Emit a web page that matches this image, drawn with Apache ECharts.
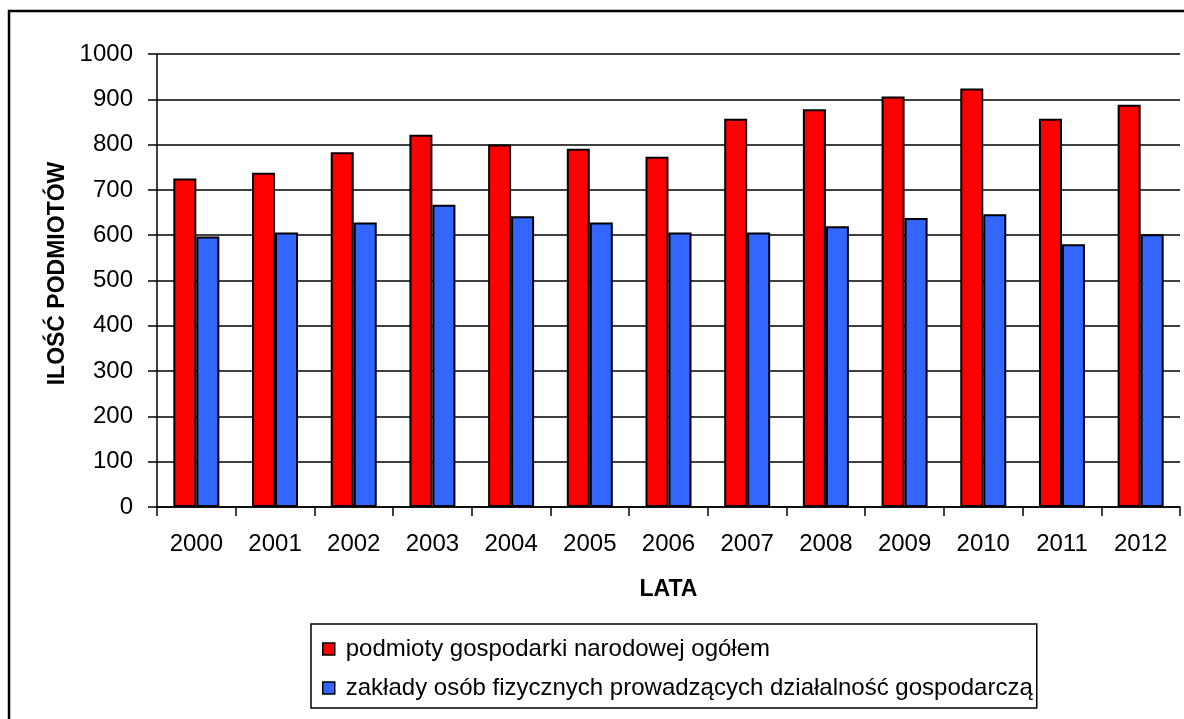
<!DOCTYPE html>
<html>
<head>
<meta charset="utf-8">
<script src="https://cdn.jsdelivr.net/npm/echarts@6/dist/echarts.min.js"></script>
<style>
  html, body { margin: 0; padding: 0; background: #fff; }
  #chart { width: 1184px; height: 719px; }
</style>
</head>
<body>
<div id="chart"></div>
<script>
// Years on the category axis
const years = ['2000', '2001', '2002', '2003', '2004', '2005', '2006',
               '2007', '2008', '2009', '2010', '2011', '2012'];

// Number of entities per year
const podmiotyOgolem = [725, 738, 783, 822, 800, 791, 773, 857, 878, 906, 924, 857, 888];
const zakladyOsobFizycznych = [597, 606, 628, 667, 642, 628, 606, 606, 620, 638, 646, 580, 602];

const seriesNames = [
  'podmioty gospodarki narodowej ogółem',
  'zakłady osób fizycznych prowadzących działalność gospodarczą'
];

const FONT = '"Liberation Sans", Arial, sans-serif';

const chart = echarts.init(document.getElementById('chart'), null, { renderer: 'canvas' });

chart.setOption({
  backgroundColor: '#ffffff',
  animation: false,
  textStyle: { fontFamily: FONT, color: '#000' },
  graphic: [
    {
      // outer chart frame (runs past the right and bottom edges)
      type: 'rect',
      shape: { x: 9, y: 11, width: 1300, height: 900 },
      style: { fill: 'none', stroke: '#000', lineWidth: 2.5 },
      silent: true,
      z: -1
    }
  ],
  grid: {
    left: 157,
    right: 4,
    top: 54,
    bottom: 212,
    containLabel: false
  },
  legend: {
    orient: 'vertical',
    left: 311,
    top: 624,
    padding: [13, 4, 8, 11],
    itemGap: 15,
    itemWidth: 12,
    itemHeight: 12,
    borderColor: '#000',
    borderWidth: 1.5,
    backgroundColor: '#fff',
    icon: 'rect',
    itemStyle: { borderColor: '#000', borderWidth: 1.5 },
    textStyle: { fontFamily: FONT, fontSize: 24, color: '#000', padding: [0, 0, 0, 6] },
    data: seriesNames
  },
  xAxis: {
    type: 'category',
    data: years,
    name: 'LATA',
    nameLocation: 'middle',
    nameGap: 71,
    nameTextStyle: { fontFamily: FONT, fontSize: 23, fontWeight: 'bold', color: '#000' },
    axisLine: { lineStyle: { color: '#000', width: 1.5 } },
    axisTick: { show: true, length: 9, alignWithLabel: false, lineStyle: { color: '#000', width: 1.5 } },
    axisLabel: { margin: 25, fontFamily: FONT, fontSize: 24, color: '#000' },
    splitLine: { show: false }
  },
  yAxis: {
    type: 'value',
    min: 0,
    max: 1000,
    interval: 100,
    name: 'ILOŚĆ PODMIOTÓW',
    nameLocation: 'middle',
    nameRotate: 90,
    nameGap: 76,
    nameTextStyle: {
      fontFamily: FONT, fontSize: 23, fontWeight: 'bold', color: '#000',
      padding: [0, 0, 0, 14]
    },
    axisLine: { show: true, lineStyle: { color: '#000', width: 1.5 } },
    axisTick: { show: true, length: 9, lineStyle: { color: '#000', width: 1.5 } },
    axisLabel: {
      margin: 24, fontFamily: FONT, fontSize: 24, color: '#000',
      formatter: function (v) { return String(v); }
    },
    splitLine: { show: true, lineStyle: { color: '#000', width: 1.5 } }
  },
  series: [
    {
      name: seriesNames[0],
      type: 'bar',
      data: podmiotyOgolem,
      barWidth: 23,
      barGap: '0%',
      itemStyle: { color: '#ff0000', borderColor: '#000', borderWidth: 2 }
    },
    {
      name: seriesNames[1],
      type: 'bar',
      data: zakladyOsobFizycznych,
      barWidth: 23,
      barGap: '0%',
      itemStyle: { color: '#3366ff', borderColor: '#000', borderWidth: 2 }
    }
  ]
});
</script>
</body>
</html>
